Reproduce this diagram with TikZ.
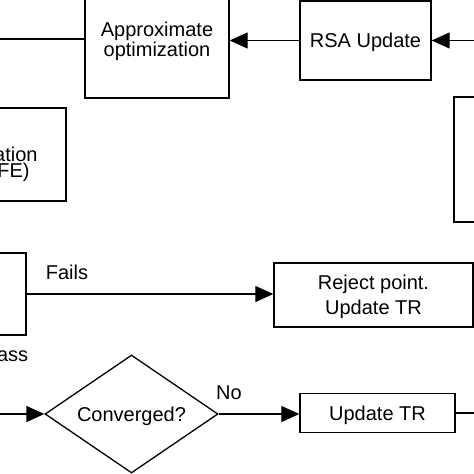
\documentclass[tikz,border=0pt]{standalone}
\usepackage{fontspec}
\setmainfont{Liberation Sans}
\usetikzlibrary{shapes.geometric,arrows.meta}
\begin{document}
\begin{tikzpicture}[x=1pt,y=-1pt,
  box/.style={draw, line width=1.3pt, inner sep=0pt, align=center, text depth=0pt, font=\fontsize{20}{17.5}\selectfont},
  flow/.style={line width=1.2pt, -{Triangle[length=18pt,width=16pt]}},
  plain/.style={line width=1.2pt},
  lbl/.style={font=\fontsize{20}{20}\selectfont, inner sep=0pt}]
\useasboundingbox (0,0) rectangle (474,474);
\clip (0,0) rectangle (474,474);
% boxes
\node[box, minimum width=144pt, minimum height=118pt] (approx) at (157,39) {Approximate\\optimization};
\node[box, minimum width=131pt, minimum height=79pt] (rsa) at (365.5,40.5) {RSA Update};
\node[box, font=\fontsize{20}{16}\selectfont, minimum width=148pt, minimum height=93pt] (eval) at (-8,154.5) {\rule{0pt}{30pt}evaluation\\\hspace*{22pt}(HFE)};
\node[box, minimum width=146pt, minimum height=125pt] (right) at (527,159.5) {};
\node[box, minimum width=148pt, minimum height=82pt] (pass) at (-48,294) {};
\node[box, font=\fontsize{20}{25}\selectfont, minimum width=199pt, minimum height=64pt] (reject) at (373.5,295) {Reject point.\\Update TR};
\node[diamond, draw, line width=1.3pt, aspect=1.466, inner sep=0pt, text depth=0pt, minimum width=173pt, minimum height=118pt, font=\fontsize{20}{20}\selectfont] (conv) at (131.5,414) {Converged?};
\node[box, minimum width=155pt, minimum height=39pt] (upd) at (377.5,413) {Update TR};
% free ends
\coordinate (outL) at (-10,39);
\coordinate (inR) at (480,40.5);
\coordinate (inD) at (-10,414);
\coordinate (outR) at (480,413);
% connectors
\draw[plain] (approx.west) -- (outL);
\draw[flow] (inR) -- (rsa.east);
\draw[flow] (rsa.west) -- (rsa.west -| approx.east);
\draw[flow] (pass.east) -- (pass.east -| reject.west);
\draw[flow] (inD) -- (conv.west);
\draw[flow] (conv.east) -- (conv.east -| upd.west);
\draw[plain] (upd.east) -- (outR);
% labels
\node[lbl] (fails) at (67,272) {Fails};
\node[lbl] (passlbl) at (6,355) {Pass};
\node[lbl] (no) at (229,393) {No};
\end{tikzpicture}
\end{document}
